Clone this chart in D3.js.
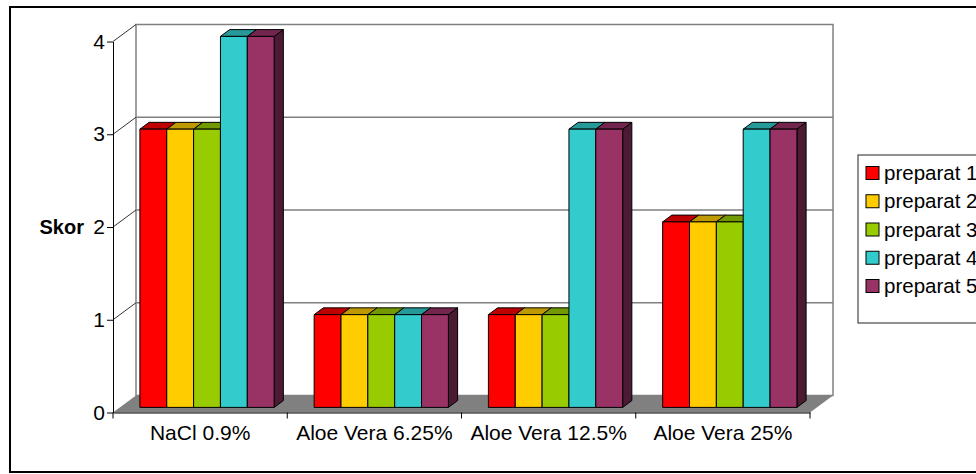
<!DOCTYPE html>
<html>
<head>
<meta charset="utf-8">
<script src="https://cdn.jsdelivr.net/npm/d3@7"></script>
<style>
  body { margin: 0; background: #fff; }
  svg { display: block; font-family: 'Liberation Sans', Arial, sans-serif; }
</style>
</head>
<body>
<svg width="976" height="474"></svg>
<script>
const categories = ['NaCl 0.9%', 'Aloe Vera 6.25%', 'Aloe Vera 12.5%', 'Aloe Vera 25%'];
const seriesNames = ['preparat 1', 'preparat 2', 'preparat 3', 'preparat 4', 'preparat 5'];
const preparat1 = [3, 1, 1, 2];
const preparat2 = [3, 1, 1, 2];
const preparat3 = [3, 1, 1, 2];
const preparat4 = [4, 1, 3, 3];
const preparat5 = [4, 1, 3, 3];
const yTicks = [0, 1, 2, 3, 4];
const colors = ['#ff0000', '#ffcc00', '#99cc00', '#33cccc', '#993366'];

const allSeries = [preparat1, preparat2, preparat3, preparat4, preparat5];

// front plane of the 3d box, plus the depth offset to the back wall
const plotLeft = 113, plotRight = 810, plotBottom = 412.5, plotTop = 41.5;
const DX = 23, DY = -17;
const d0 = 0.3, d1 = 0.7;   // bar depth, as fraction of full depth

const svg = d3.select('svg');

// outer frame
svg.append('rect')
  .attr('x', 10).attr('y', 7)
  .attr('width', 990).attr('height', 465)
  .attr('fill', 'none').attr('stroke', '#000').attr('stroke-width', 2);

const xScale = d3.scaleBand().domain(categories).range([plotLeft, plotRight]);
const xInner = d3.scaleBand().domain(seriesNames)
  .range([0, xScale.bandwidth()])
  .paddingInner(0).paddingOuter(0.745);
const yScale = d3.scaleLinear().domain([0, 4]).range([plotBottom, plotTop]);

// back wall
svg.append('rect')
  .attr('x', plotLeft + DX).attr('y', plotTop + DY)
  .attr('width', plotRight - plotLeft).attr('height', plotBottom - plotTop)
  .attr('fill', '#fff').attr('stroke', '#808080').attr('stroke-width', 1.5);

// gridlines on the back wall
svg.selectAll('.grid')
  .data(yTicks.slice(1, -1))
  .enter().append('line')
  .attr('x1', plotLeft + DX).attr('x2', plotRight + DX)
  .attr('y1', d => yScale(d) + DY).attr('y2', d => yScale(d) + DY)
  .attr('stroke', '#808080').attr('stroke-width', 1.5);

// diagonals on the left side wall
svg.selectAll('.side')
  .data(yTicks.slice(1))
  .enter().append('line')
  .attr('x1', plotLeft).attr('x2', plotLeft + DX)
  .attr('y1', d => yScale(d)).attr('y2', d => yScale(d) + DY)
  .attr('stroke', '#333').attr('stroke-width', 1);

// floor
svg.append('polygon')
  .attr('points', [[plotLeft, plotBottom], [plotRight, plotBottom], [plotRight + DX, plotBottom + DY], [plotLeft + DX, plotBottom + DY]].join(' '))
  .attr('fill', '#808080');

// bars
const shade = (c, k) => { const r = d3.rgb(c); return d3.rgb(r.r * k, r.g * k, r.b * k).formatHex(); };

categories.forEach((cat, ci) => {
  seriesNames.forEach((s, si) => {
    const v = allSeries[si][ci];
    const x0 = xScale(cat) + xInner(s) + DX * d0;
    const x1 = x0 + xInner.bandwidth();
    const yb = yScale(0) + DY * d0;
    const yt = yScale(v) + DY * d0;
    const ddx = DX * (d1 - d0), ddy = DY * (d1 - d0);
    const g = svg.append('g').attr('stroke', '#000').attr('stroke-width', 1).attr('stroke-linejoin', 'round');
    g.append('polygon')
      .attr('points', [[x1, yt], [x1 + ddx, yt + ddy], [x1 + ddx, yb + ddy], [x1, yb]].join(' '))
      .attr('fill', shade(colors[si], 0.5));
    g.append('polygon')
      .attr('points', [[x0, yt], [x0 + ddx, yt + ddy], [x1 + ddx, yt + ddy], [x1, yt]].join(' '))
      .attr('fill', shade(colors[si], 0.75));
    g.append('rect')
      .attr('x', x0).attr('y', yt)
      .attr('width', x1 - x0).attr('height', yb - yt)
      .attr('fill', colors[si]);
  });
});

// y axis
const yAxis = d3.axisLeft(yScale).tickValues(yTicks).tickFormat(d3.format('d'))
  .tickSize(6).tickSizeOuter(0).tickPadding(2);
const yg = svg.append('g').attr('transform', `translate(${plotLeft},0)`).call(yAxis);
yg.selectAll('text').attr('font-size', 21).attr('font-family', null).attr('fill', '#000');
yg.selectAll('line, path').attr('stroke', '#000');

// x axis: labels at the band centres, ticks at the band edges
const xAxis = d3.axisBottom(xScale).tickSize(0).tickSizeOuter(0).tickPadding(13);
const xg = svg.append('g').attr('transform', `translate(0,${plotBottom})`).call(xAxis);
xg.selectAll('text').attr('font-size', 21).attr('font-family', null).attr('fill', '#000');
xg.select('path').attr('stroke', '#000');
xg.selectAll('.edge')
  .data(categories.map(c => xScale(c)).concat([plotRight]))
  .enter().append('line')
  .attr('x1', d => d).attr('x2', d => d)
  .attr('y1', 0).attr('y2', 6)
  .attr('stroke', '#000');

// y axis title
svg.append('text')
  .attr('x', 84).attr('y', yScale(2))
  .attr('dy', '0.35em')
  .attr('text-anchor', 'end')
  .attr('font-size', 20).attr('font-weight', 'bold')
  .text('Skor');

// legend
const legend = svg.append('g');
legend.append('rect')
  .attr('x', 858).attr('y', 155)
  .attr('width', 140).attr('height', 168)
  .attr('fill', '#fff').attr('stroke', '#222').attr('stroke-width', 1);
const rowY = d3.scalePoint().domain(seriesNames).range([173, 286]);
const items = legend.selectAll('.item')
  .data(seriesNames)
  .enter().append('g')
  .attr('transform', d => `translate(866,${rowY(d)})`);
items.append('rect')
  .attr('x', 0).attr('y', -6.5)
  .attr('width', 13).attr('height', 13)
  .attr('fill', (d, i) => colors[i]).attr('stroke', '#000');
items.append('text')
  .attr('x', 18).attr('dy', '0.35em')
  .attr('font-size', 20.5)
  .text(d => d);
</script>
</body>
</html>
